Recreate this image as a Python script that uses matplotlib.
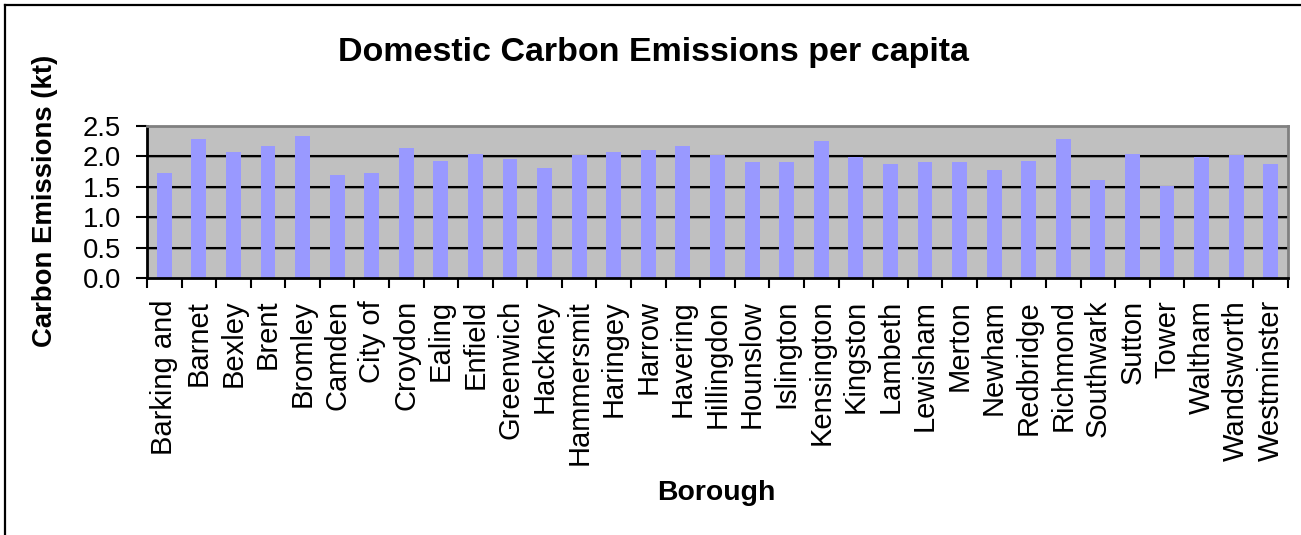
import matplotlib
matplotlib.use("Agg")
import matplotlib.pyplot as plt
import matplotlib.transforms as mtransforms
from matplotlib.lines import Line2D
import numpy as np

plt.rcParams['font.family'] = ['Liberation Sans', 'DejaVu Sans']

boroughs = [
    "Barking and", "Barnet", "Bexley", "Brent", "Bromley", "Camden", "City of",
    "Croydon", "Ealing", "Enfield", "Greenwich", "Hackney", "Hammersmit",
    "Haringey", "Harrow", "Havering", "Hillingdon", "Hounslow", "Islington",
    "Kensington", "Kingston", "Lambeth", "Lewisham", "Merton", "Newham",
    "Redbridge", "Richmond", "Southwark", "Sutton", "Tower", "Waltham",
    "Wandsworth", "Westminster",
]
emissions = [
    1.73, 2.28, 2.07, 2.17, 2.33, 1.69, 1.73,
    2.13, 1.92, 2.04, 1.95, 1.81, 2.02,
    2.07, 2.10, 2.17, 2.02, 1.90, 1.90,
    2.25, 1.99, 1.87, 1.90, 1.90, 1.77,
    1.92, 2.28, 1.61, 2.04, 1.51, 1.99,
    2.02, 1.87,
]
y_ticks = [0.0, 0.5, 1.0, 1.5, 2.0, 2.5]

W, H = 1301, 535
fig = plt.figure(figsize=(W / 100, H / 100), dpi=100)
ax = fig.add_axes([147 / W, 1 - 278.3 / H, (1288 - 147) / W, (278.3 - 125.7) / H])

ax.set_facecolor("#C0C0C0")
x = np.arange(len(boroughs))

# horizontal gridlines with a light shadow just beneath each
grid_tr = ax.get_yaxis_transform()
shadow_tr = grid_tr + mtransforms.ScaledTranslation(0, -1.2 / 100, fig.dpi_scale_trans)
for yv in y_ticks[1:-1]:
    ax.plot([0, 1], [yv, yv], transform=shadow_tr, color="#808080", lw=1.2,
            zorder=1, solid_capstyle="butt")
    ax.plot([0, 1], [yv, yv], transform=grid_tr, color="black", lw=1.5,
            zorder=1.5, solid_capstyle="butt")

ax.bar(x, emissions, width=0.43, color="#9999FF", zorder=2)

ax.set_xlim(-0.5, len(boroughs) - 0.5)
ax.set_ylim(0, 2.5)

ax.set_yticks(y_ticks)
ax.set_yticklabels([f"{v:.1f}" for v in y_ticks], fontsize=19.8)
ax.tick_params(axis="y", length=8, width=1.5, pad=10.5, color="black")

ax.set_xticks(x)
ax.set_xticklabels(boroughs, rotation=90, fontsize=21)
ax.tick_params(axis="x", which="major", length=0, pad=15.5)
ax.set_xticks(np.arange(-0.5, len(boroughs), 1.0), minor=True)
ax.tick_params(axis="x", which="minor", length=7.5, width=1.5, color="black")

for side in ("left", "bottom"):
    ax.spines[side].set_color("black")
    ax.spines[side].set_linewidth(2)
for side in ("top", "right"):
    ax.spines[side].set_color("#808080")
    ax.spines[side].set_linewidth(2)

fig.text(653 / W, 1 - 53 / H, "Domestic Carbon Emissions per capita",
         ha="center", va="center", fontsize=24.5, fontweight="bold")
fig.text(716 / W, 1 - 493 / H, "Borough",
         ha="center", va="center", fontsize=20.4, fontweight="bold")
fig.text(45 / W, 1 - 201 / H, "Carbon Emissions (kt)", rotation=90,
         ha="center", va="center", fontsize=19.8, fontweight="bold")

# chart frame along the left and top edges
fig.add_artist(Line2D([5 / W, 5 / W], [0, 1 - 4.5 / H], transform=fig.transFigure,
                      color="black", lw=1.6))
fig.add_artist(Line2D([5 / W, 1], [1 - 4.5 / H, 1 - 4.5 / H], transform=fig.transFigure,
                      color="black", lw=1.6))

fig.savefig("out.png", dpi=100)
